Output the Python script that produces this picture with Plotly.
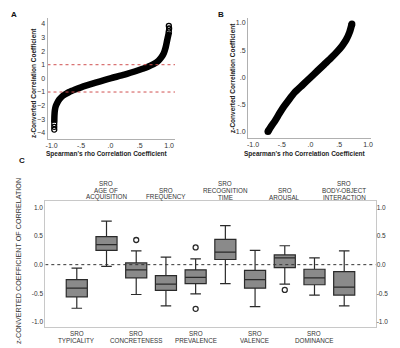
import plotly.graph_objects as go

W, H = 400, 348

# ---------------- data ----------------
# Panel A: Spearman's rho vs z-converted coefficient
a_rho = [-0.955, -0.952, -0.945, -0.93, -0.905, -0.87, -0.82, -0.76, -0.70, -0.60, -0.50,
         -0.25, 0.0, 0.24, 0.50, 0.60, 0.69, 0.76, 0.82, 0.87, 0.91, 0.94, 0.965, 0.985, 0.998]
a_z = [-3.25, -2.75, -2.35, -2.05, -1.80, -1.55, -1.32, -1.15, -1.00, -0.82, -0.66,
       -0.32, 0.0, 0.27, 0.63, 0.78, 0.95, 1.10, 1.30, 1.55, 1.85, 2.25, 2.75, 3.15, 3.40]
a_top_rho = [0.995, 1.0, 0.995]
a_top_z = [3.45, 3.65, 3.85]
a_bot_rho = [-0.955, -0.955, -0.955]
a_bot_z = [-3.35, -3.55, -3.75]

# Panel B
b_rho = [-0.74, -0.68, -0.62, -0.54, -0.46, -0.37, -0.28, -0.14, 0.0, 0.12, 0.24, 0.36, 0.47, 0.55, 0.62, 0.68, 0.72]
b_z = [-0.99, -0.89, -0.80, -0.66, -0.53, -0.40, -0.28, -0.14, 0.0, 0.12, 0.24, 0.36, 0.48, 0.58, 0.69, 0.83, 0.98]

# Panel C: box plots
c_labels = [["SRO", "TYPICALITY"], ["SRO", "AGE OF", "ACQUISITION"], ["SRO", "CONCRETENESS"],
            ["SRO", "FREQUENCY"], ["SRO", "PREVALENCE"], ["SRO", "RECOGNITION", "TIME"],
            ["SRO", "VALENCE"], ["SRO", "AROUSAL"], ["SRO", "DOMINANCE"],
            ["SRO", "BODY-OBJECT", "INTERACTION"]]
c_lower = [-0.76, -0.03, -0.52, -0.72, -0.51, -0.33, -0.73, -0.34, -0.53, -0.72]
c_q1 = [-0.56, 0.25, -0.23, -0.45, -0.33, 0.09, -0.41, -0.05, -0.35, -0.53]
c_median = [-0.41, 0.35, -0.09, -0.34, -0.22, 0.22, -0.26, 0.12, -0.23, -0.39]
c_q3 = [-0.26, 0.49, 0.03, -0.19, -0.09, 0.44, -0.10, 0.17, -0.08, -0.12]
c_upper = [-0.06, 0.76, 0.24, 0.13, 0.10, 0.68, 0.25, 0.33, 0.12, 0.24]
c_out_idx = [2, 4, 4, 7]
c_out_val = [0.43, 0.30, -0.77, -0.44]

rho_ticks = [-1.0, -0.5, 0.0, 0.5, 1.0]
rho_ticktext = ["-1.0", "-.5", ".0", ".5", "1.0"]
a_yticks = [4, 3, 2, 1, 0, -1, -2, -3, -4]
b_yticks = [1.0, 0.5, 0.0, -0.5, -1.0]
b_ytext = ["1.0", ".5", ".0", "-.5", "-1.0"]
c_yticks = [1.0, 0.5, 0.0, -0.5, -1.0]
c_ytext = ["1.0", "0.5", "0.0", "-0.5", "-1.0"]


def px_x(x):
    return x / W


def px_y(y):
    return (H - y) / H


FONT = "Liberation Sans, Arial, sans-serif"
TICKC = "#333333"
AXC = "#b0b0b0"

fig = go.Figure()

# ---- Panel A ----
fig.add_trace(go.Scatter(x=a_rho, y=a_z, mode="lines", xaxis="x", yaxis="y",
                         line=dict(color="black", width=6.5, shape="spline", smoothing=0.6),
                         showlegend=False, hoverinfo="skip"))
fig.add_trace(go.Scatter(x=a_top_rho + a_bot_rho, y=a_top_z + a_bot_z, mode="markers",
                         xaxis="x", yaxis="y",
                         marker=dict(symbol="circle-open", color="black", size=5, line=dict(width=1.3)),
                         showlegend=False, hoverinfo="skip"))
for yv in [1, -1]:
    fig.add_trace(go.Scatter(x=[-1.07, 1.10], y=[yv, yv], mode="lines", xaxis="x", yaxis="y",
                             line=dict(color="#d05050", width=1, dash="dot"),
                             showlegend=False, hoverinfo="skip"))

# ---- Panel B ----
fig.add_trace(go.Scatter(x=b_rho, y=b_z, mode="lines", xaxis="x2", yaxis="y2",
                         line=dict(color="black", width=7, shape="spline", smoothing=0.6),
                         showlegend=False, hoverinfo="skip"))
fig.add_trace(go.Scatter(x=[b_rho[0], b_rho[-1]], y=[b_z[0], b_z[-1]], mode="markers",
                         xaxis="x2", yaxis="y2", marker=dict(color="black", size=7),
                         showlegend=False, hoverinfo="skip"))

# ---- Panel C ----
for i in range(len(c_labels)):
    fig.add_trace(go.Box(x=[i], q1=[c_q1[i]], median=[c_median[i]], q3=[c_q3[i]],
                         lowerfence=[c_lower[i]], upperfence=[c_upper[i]],
                         xaxis="x3", yaxis="y3", width=0.71, whiskerwidth=0.5,
                         fillcolor="#8a8a8a", line=dict(color="#2a2a2a", width=1.2),
                         boxpoints=False, showlegend=False, hoverinfo="skip"))
fig.add_trace(go.Scatter(x=c_out_idx, y=c_out_val, mode="markers", xaxis="x3", yaxis="y3",
                         marker=dict(symbol="circle-open", color="#2a2a2a", size=5, line=dict(width=1.3)),
                         showlegend=False, hoverinfo="skip"))
fig.add_trace(go.Scatter(x=[-1.06, 10.06], y=[0, 0], mode="lines", xaxis="x3", yaxis="y3",
                         line=dict(color="#333333", width=1, dash="dot"),
                         showlegend=False, hoverinfo="skip"))

tickfont = dict(family=FONT, size=7, color=TICKC)

fig.update_layout(
    template="none",
    width=W, height=H, margin=dict(l=0, r=0, t=0, b=0),
    paper_bgcolor="white", plot_bgcolor="white",
    xaxis=dict(domain=[px_x(39.5), px_x(167)], range=[-1.07, 1.10], anchor="y",
               tickvals=rho_ticks, ticktext=rho_ticktext, showgrid=False, zeroline=False,
               showline=True, linecolor=AXC, linewidth=1, ticks="", tickfont=tickfont),
    yaxis=dict(domain=[px_y(131), px_y(10)], range=[-4.44, 4.42], anchor="x",
               tickvals=a_yticks, showgrid=False, zeroline=False,
               showline=True, linecolor=AXC, linewidth=1, ticks="", tickfont=tickfont),
    xaxis2=dict(domain=[px_x(240), px_x(363)], range=[-1.087, 1.052], anchor="y2",
                tickvals=rho_ticks, ticktext=rho_ticktext, showgrid=False, zeroline=False,
                showline=True, linecolor=AXC, linewidth=1, ticks="", tickfont=tickfont),
    yaxis2=dict(domain=[px_y(130), px_y(10)], range=[-1.11, 1.09], anchor="x2",
                tickvals=b_yticks, ticktext=b_ytext, showgrid=False, zeroline=False,
                showline=True, linecolor=AXC, linewidth=1, ticks="", tickfont=tickfont),
    xaxis3=dict(domain=[px_x(37.3), px_x(367.7)], range=[-1.06, 10.06], anchor="y3",
                showticklabels=False, showgrid=False, zeroline=False,
                showline=True, mirror=True, linecolor="#c8c8c8", linewidth=1, ticks=""),
    yaxis3=dict(domain=[px_y(319), px_y(193.3)], range=[-1.087, 1.105], anchor="x3",
                tickvals=c_yticks, ticktext=c_ytext, showgrid=False, zeroline=False,
                showline=True, mirror=True, linecolor="#c8c8c8", linewidth=1, ticks="",
                tickfont=dict(family=FONT, size=6.5, color=TICKC)),
    yaxis4=dict(overlaying="y3", side="right", anchor="x3", range=[-1.087, 1.105],
                tickvals=c_yticks, ticktext=c_ytext, showgrid=False, zeroline=False,
                showline=False, ticks="", tickfont=dict(family=FONT, size=6.5, color=TICKC)),
)
# dummy trace to show the right axis
fig.add_trace(go.Scatter(x=[None], y=[None], xaxis="x3", yaxis="y4", showlegend=False))

ann = []


def add_text(x, y, text, size=7, bold=False, angle=0, color="#222222", xanchor="center"):
    t = "<b>" + text + "</b>" if bold else text
    ann.append(dict(x=px_x(x), y=px_y(y), xref="paper", yref="paper", text=t, showarrow=False,
                    xanchor=xanchor, yanchor="middle", textangle=angle, borderpad=0,
                    font=dict(family=FONT, size=size, color=color)))


# panel letters
add_text(6, 7, "A", size=8, bold=True, color="#111111")
add_text(213, 6, "B", size=8, bold=True, color="#111111")
add_text(14, 152, "C", size=8, bold=True, color="#111111")

# axis titles A/B
add_text(99, 146, "Spearman's rho Correlation Coefficient", size=6.5, bold=True)
add_text(297, 146, "Spearman's rho Correlation Coefficient", size=6.5, bold=True)
add_text(25, 75, "z-Converted Correlation Coefficient", size=6.5, bold=True, angle=-90)
add_text(224, 70, "z-Converted Correlation Coefficient", size=6.5, bold=True, angle=-90)

# axis titles C
add_text(10, 253, "z-CONVERTED COEFFICIENT OF CORRELATION", size=7.2, angle=-90, color="#333333")
add_text(388, 254, "z-CONVERTED COEFFICIENT OF CORRELATION", size=7.2, angle=90, color="#333333")

# category labels for C
x0, dx = 68.7, 29.7
for i, lines in enumerate(c_labels):
    cx = x0 + dx * i
    if i % 2 == 0:
        ys = [325, 332.3]
    else:
        ys = [175.7, 182.3, 189] if len(lines) == 3 else [182.3, 189]
    for ln, yy in zip(lines, ys):
        add_text(cx, yy, ln, size=6.3, color="#333333")

fig.update_layout(annotations=ann)
fig.write_html("out.html")
